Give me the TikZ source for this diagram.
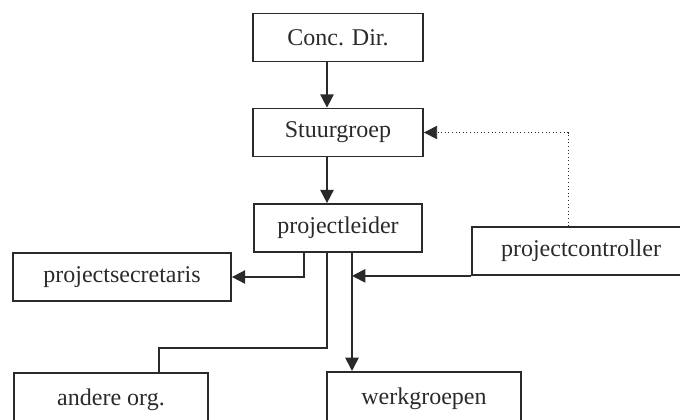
\documentclass[tikz,border=0pt]{standalone}
\usepackage{fontspec}
\setmainfont{Liberation Serif}
\usetikzlibrary{arrows.meta}
\definecolor{Ink}{HTML}{2A2A2A}

\begin{document}
\begin{tikzpicture}[x=0.75pt,y=-0.75pt,
    box/.style={draw=Ink,line width=1.3pt,inner sep=0pt,minimum height=36pt,
      font=\fontsize{18}{20}\selectfont,text=Ink},
    arr/.style={draw=Ink,line width=1.3pt,-{Triangle[length=10pt,width=10pt]}},
    lijn/.style={draw=Ink,line width=1.3pt}]
        \useasboundingbox (0,0) rectangle (680,419);
        \node[box,minimum width=127.5pt] (concdir) at (338,37.5) {Conc. Dir.};
        \node[box,minimum width=127.5pt] (stuurgroep) at (338,132.5) {Stuurgroep};
        \node[box,minimum width=126pt] (leider) at (338,228) {projectleider};
        \node[box,minimum width=163.5pt] (secretaris) at (122,277) {projectsecretaris};
        \node[box,minimum width=163.5pt] (controller) at (581,251) {projectcontroller};
        \node[box,minimum width=145.5pt,minimum height=40pt] (andere) at (111,399.5) {andere org.};
        \node[box,minimum width=145.5pt,minimum height=40pt] (werkgroepen) at (424,398.5) {werkgroepen};
        % hulppunten voor de verticale lijnen
        \coordinate (as) at (327,0);
        \coordinate (aw) at (352,0);
        \coordinate (asec) at (304,0);
        \coordinate (aorg) at (159,348);
        \coordinate (actl) at (568,0);
        \draw[arr] (concdir.south -| as) -- (stuurgroep.north -| as);
        \draw[arr] (stuurgroep.south -| as) -- (leider.north -| as);
        \draw[arr] (leider.south -| asec) |- (secretaris.east);
        \draw[lijn] (leider.south -| as) |- (aorg) -- (andere.north -| aorg);
        \draw[arr] (leider.south -| aw) -- (werkgroepen.north -| aw);
        \draw[arr] (controller.south west) -- (controller.south west -| aw);
        \draw[draw=Ink,line width=0.7pt,dotted,-{Triangle[length=10pt,width=10pt]}]
          (controller.north -| actl) |- (stuurgroep.east);
      \end{tikzpicture}
\end{document}
